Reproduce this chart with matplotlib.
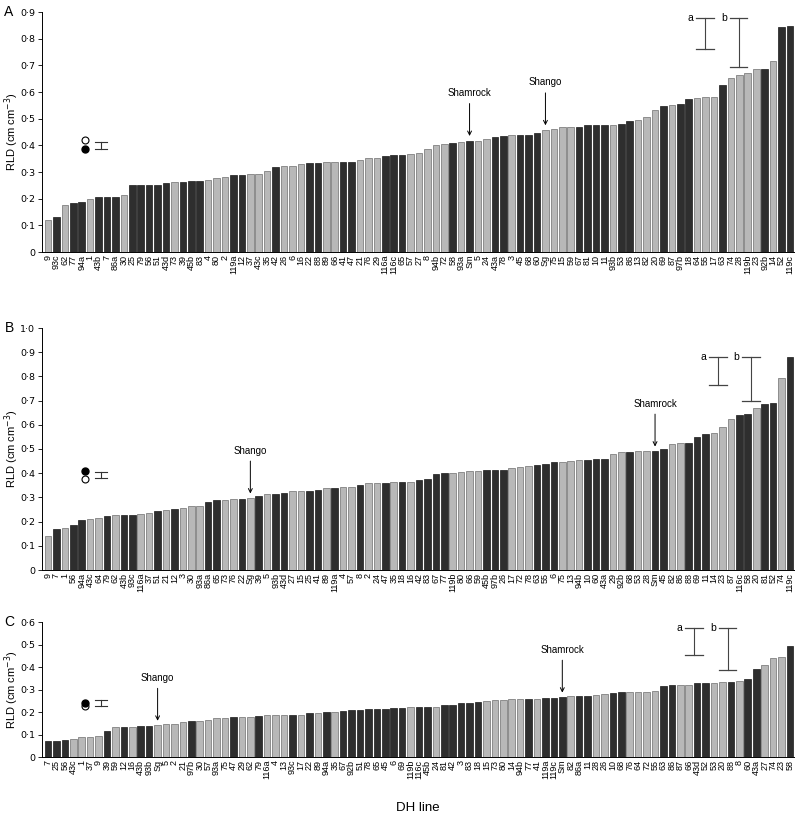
import matplotlib
matplotlib.use("Agg")
import matplotlib.pyplot as plt
import numpy as np

plt.rcParams['font.family'] = ['Liberation Sans', 'DejaVu Sans']

# ---- panel A ----
labels_a = ["9", "93c", "62", "77", "94a", "1", "43b", "7", "86a", "30",
            "25", "79", "56", "51", "43d", "73", "39", "45b", "83", "4",
            "80", "2", "119a", "12", "37", "43c", "35", "42", "26", "6",
            "16", "22", "88", "89", "66", "41", "47", "21", "76", "29",
            "116a", "116c", "65", "57", "27", "8", "94b", "72", "58", "93a",
            "Sm", "5", "24", "43a", "78", "3", "45", "68", "60", "Sg",
            "75", "15", "59", "67", "81", "10", "11", "93b", "53", "86",
            "13", "82", "20", "69", "87", "97b", "18", "64", "55", "17",
            "63", "74", "28", "119b", "23", "92b", "14", "52", "119c"]
vals_a = [0.12, 0.13, 0.175, 0.185, 0.187, 0.20, 0.207, 0.207, 0.207, 0.215,
          0.252, 0.253, 0.253, 0.253, 0.257, 0.263, 0.263, 0.265, 0.267, 0.27,
          0.278, 0.283, 0.288, 0.288, 0.292, 0.292, 0.305, 0.32, 0.322, 0.323,
          0.33, 0.332, 0.332, 0.337, 0.337, 0.338, 0.338, 0.345, 0.352, 0.354,
          0.36, 0.362, 0.362, 0.367, 0.37, 0.385, 0.402, 0.405, 0.407, 0.413,
          0.417, 0.418, 0.425, 0.43, 0.435, 0.438, 0.438, 0.44, 0.447, 0.457,
          0.46, 0.467, 0.47, 0.47, 0.475, 0.475, 0.475, 0.478, 0.48, 0.49,
          0.495, 0.505, 0.532, 0.548, 0.552, 0.555, 0.575, 0.577, 0.58, 0.58,
          0.627, 0.652, 0.665, 0.67, 0.685, 0.685, 0.717, 0.842, 0.848]
group_a = "GKGKKGKKKG" "KKKKKGKKKG" "GGKKGGGKGG" "GKKGGKKGGG" "KKKGGGGGKG" \
          "KGGKKGKKKG" "GGGKKKKGKK" "GGGKGKKGGG" "KGGGGKGKK"

# ---- panel B ----
labels_b = ["9", "7", "1", "56", "94a", "43c", "64", "79", "62", "43b",
            "93c", "116a", "37", "51", "21", "12", "3", "30", "93a", "86a",
            "65", "73", "76", "22", "Sg", "39", "5", "93b", "43d", "27",
            "15", "25", "41", "89", "119a", "4", "57", "8", "2", "24",
            "47", "35", "18", "16", "42", "83", "67", "77", "119b", "80",
            "66", "59", "45b", "97b", "26", "17", "72", "78", "63", "55",
            "6", "75", "13", "94b", "10", "60", "43a", "29", "92b", "68",
            "53", "28", "Sm", "45", "82", "86", "88", "69", "11", "14",
            "23", "87", "116c", "58", "20", "81", "52", "74", "119c"]
vals_b = [0.14, 0.17, 0.175, 0.185, 0.205, 0.212, 0.215, 0.225, 0.227, 0.227,
          0.228, 0.23, 0.235, 0.245, 0.25, 0.252, 0.257, 0.265, 0.265, 0.283,
          0.29, 0.29, 0.293, 0.293, 0.298, 0.305, 0.312, 0.315, 0.32, 0.327,
          0.327, 0.327, 0.33, 0.34, 0.34, 0.345, 0.345, 0.353, 0.358, 0.36,
          0.36, 0.363, 0.363, 0.363, 0.37, 0.378, 0.395, 0.40, 0.40, 0.405,
          0.41, 0.41, 0.413, 0.413, 0.415, 0.422, 0.427, 0.43, 0.432, 0.44,
          0.445, 0.445, 0.452, 0.455, 0.455, 0.46, 0.46, 0.48, 0.488, 0.488,
          0.492, 0.492, 0.492, 0.498, 0.522, 0.525, 0.525, 0.55, 0.562, 0.565,
          0.59, 0.625, 0.64, 0.645, 0.668, 0.688, 0.69, 0.793, 0.882]
group_b = "GKGKKGGKGK" "KGGKGKGGGK" "KGGKGKGKKG" "GKKGKGGKGG" "KGKGKKKKGG" \
          "GGKKKGGGKK" "KGGGKKKGGK" "GGKKGGKKKG" "GGKKGKKGK"

# ---- panel C ----
labels_c = ["7", "25", "56", "43c", "1", "37", "9", "39", "59", "12",
            "16", "43b", "93b", "Sg", "5", "2", "21", "97b", "30", "57",
            "93a", "75", "47", "29", "62", "79", "116a", "4", "13", "93c",
            "17", "22", "89", "94a", "35", "67", "92b", "51", "78", "65",
            "45", "6", "69", "119b", "116c", "45b", "24", "81", "42", "3",
            "83", "18", "15", "73", "80", "14", "94b", "77", "41", "119a",
            "119c", "Sm", "82", "86a", "11", "28", "26", "10", "68", "76",
            "64", "72", "55", "63", "86", "87", "66", "43d", "52", "53",
            "20", "88", "8", "60", "43a", "27", "74", "23", "58"]
vals_c = [0.07, 0.073, 0.075, 0.08, 0.087, 0.087, 0.092, 0.115, 0.132, 0.135,
          0.135, 0.137, 0.138, 0.143, 0.145, 0.148, 0.155, 0.16, 0.162, 0.165,
          0.175, 0.175, 0.177, 0.18, 0.18, 0.182, 0.185, 0.187, 0.187, 0.187,
          0.187, 0.195, 0.197, 0.20, 0.20, 0.205, 0.21, 0.21, 0.212, 0.215,
          0.215, 0.217, 0.218, 0.222, 0.222, 0.222, 0.222, 0.23, 0.232, 0.242,
          0.242, 0.244, 0.248, 0.253, 0.255, 0.257, 0.257, 0.258, 0.26, 0.262,
          0.264, 0.268, 0.27, 0.272, 0.273, 0.275, 0.28, 0.283, 0.287, 0.287,
          0.287, 0.288, 0.292, 0.315, 0.318, 0.318, 0.32, 0.327, 0.327, 0.33,
          0.335, 0.335, 0.337, 0.348, 0.393, 0.408, 0.442, 0.445, 0.495]
group_c = "KKKGGGGKGK" "GKKGGGGKGG" "GGKGGKGGGK" "GKGKGKKKKK" "KKKGKKGKKK" \
          "KKGGGGGKGK" "KKGKKGGKKG" "GGGKKGGKKG" "GKGKKGGGK"

# error-bar keys: (open/filled marker values, SE bar), LSD bars a and b
key_a = {"open": 0.42, "filled": 0.387, "se": (0.385, 0.412)}
key_b = {"open": 0.378, "filled": 0.411, "se": (0.381, 0.404)}
key_c = {"open": 0.225, "filled": 0.241, "se": (0.225, 0.252)}
lsd_a = {"a": (0.762, 0.877), "b": (0.695, 0.878)}
lsd_b = {"a": (0.763, 0.882), "b": (0.697, 0.882)}
lsd_c = {"a": (0.455, 0.575), "b": (0.388, 0.575)}

DARK = "#2e2e2e"
LIGHT = "#b8b8b8"


def fmt(v):
    return "0" if v == 0 else f"{v:.1f}".replace(".", "\u00b7")


def panel(ax, letter, labels, vals, groups, ymax, key, lsd, lsd_x, notes):
    x = np.arange(len(vals))
    cols = [DARK if g == "K" else LIGHT for g in groups]
    edges = ["#1a1a1a" if g == "K" else "#6e6e6e" for g in groups]
    ax.bar(x, vals, width=0.78, color=cols, edgecolor=edges, linewidth=0.5)
    ax.set_xlim(-0.7, len(vals) - 0.4)
    ax.set_ylim(0, ymax)
    yt = np.round(np.arange(0, ymax + 1e-6, 0.1), 1)
    ax.set_yticks(yt)
    ax.set_yticklabels([fmt(v) for v in yt], fontsize=6.8,
                       family=["DejaVu Sans"])
    ax.set_xticks(x)
    ax.set_xticklabels(labels, rotation=90, fontsize=6.5)
    ax.tick_params(axis="x", length=0, pad=2)
    ax.tick_params(axis="y", length=3, width=0.6, direction="out", pad=2)
    for s in ("top", "right"):
        ax.spines[s].set_visible(False)
    for s in ("left", "bottom"):
        ax.spines[s].set_linewidth(0.7)
    ax.set_ylabel("RLD (cm cm$^{-3}$)", fontsize=8)
    ax.yaxis.set_label_coords(-0.028, 0.5)
    ax.text(-0.05, 1.0, letter, transform=ax.transAxes, fontsize=10,
            ha="left", va="center")

    # key markers with SE bar
    ax.plot(4.4, key["open"], "o", ms=5, mfc="white", mec="black", mew=0.8,
            clip_on=False)
    ax.plot(4.4, key["filled"], "o", ms=5, mfc="black", mec="black",
            clip_on=False)
    lo, hi = key["se"]
    ax.plot([6.3, 6.3], [lo, hi], color="#333", lw=0.8)
    for yy in (lo, hi):
        ax.plot([5.6, 7.0], [yy, yy], color="#333", lw=0.8)

    # LSD bars
    for name, xx in zip(("a", "b"), lsd_x):
        lo, hi = lsd[name]
        ax.plot([xx, xx], [lo, hi], color="#444", lw=0.8, clip_on=False)
        for yy in (lo, hi):
            ax.plot([xx - 1.05, xx + 1.05], [yy, yy], color="#444", lw=0.9,
                    clip_on=False)
        ax.text(xx - 1.4, hi, name, fontsize=7.5, ha="right", va="center")

    # cultivar arrows
    for text, lab in notes:
        i = labels.index(lab)
        ax.annotate(text, xy=(i, vals[i] + 0.018), xytext=(0, 38),
                    textcoords="offset pixels", ha="center", va="bottom",
                    fontsize=7,
                    arrowprops=dict(arrowstyle="->", lw=0.7, color="black",
                                    shrinkA=2, shrinkB=0))


fig = plt.figure(figsize=(7.95, 8.22), dpi=100)
x0, w = 42.1 / 795, (795 - 42.1) / 795
ax_a = fig.add_axes([x0, 570 / 822, w, 240 / 822])
ax_b = fig.add_axes([x0, 252 / 822, w, 242 / 822])
ax_c = fig.add_axes([x0, 65 / 822, w, 135 / 822])

panel(ax_a, "A", labels_a, vals_a, group_a, 0.9, key_a, lsd_a, (77.9, 81.9),
      [("Shamrock", "Sm"), ("Shango", "Sg")])
panel(ax_b, "B", labels_b, vals_b, group_b, 1.0, key_b, lsd_b, (79.5, 83.4),
      [("Shango", "Sg"), ("Shamrock", "Sm")])
panel(ax_c, "C", labels_c, vals_c, group_c, 0.6, key_c, lsd_c, (76.6, 80.6),
      [("Shango", "Sg"), ("Shamrock", "Sm")])

fig.text(0.526, 0.017, "DH line", ha="center", va="center", fontsize=9.5)

fig.savefig("out.png", dpi=100)
